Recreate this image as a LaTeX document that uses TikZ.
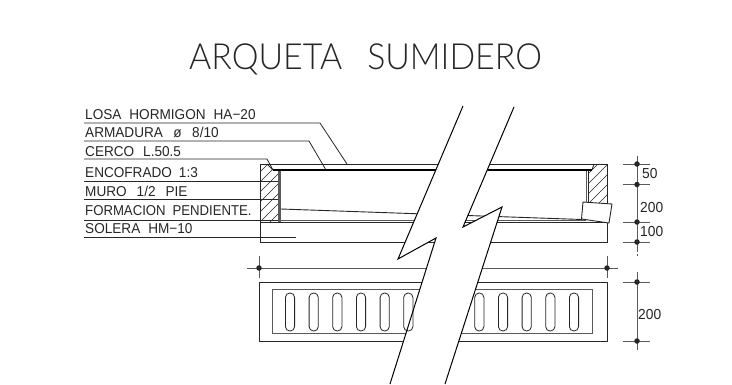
\documentclass[tikz,border=0pt]{standalone}
\usepackage{fontspec}
\setmainfont{Liberation Sans}
\newfontfamily\titlefont[UprightFont={* Light},FakeStretch=0.94]{Lato}
\newfontfamily\labelfont[FakeStretch=0.95]{Liberation Sans}
\definecolor{dk}{gray}{0.15}
\definecolor{md}{gray}{0.35}
\newcommand{\gp}[1]{\hspace{#1}}
\tikzset{
  lab/.style={anchor=base west,inner sep=0pt,font=\labelfont\fontsize{14.3}{14.3}\selectfont,text=dk},
  dimtxt/.style={anchor=base west,inner sep=0pt,font=\labelfont\fontsize{14.5}{14.5}\selectfont,text=dk},
  leader/.style={draw=dk,line width=0.8pt},
  edge/.style={draw=dk,line width=0.9pt},
  gline/.style={draw=md,line width=1pt},
  hatchline/.style={draw=dk,line width=0.6pt},
  brk/.style={draw=black,line width=1pt},
  dimline/.style={draw=md,line width=1pt},
  dotm/.style={circle,fill=dk,inner sep=0pt,minimum size=5.5pt},
  slot/.style={draw=dk,line width=0.8pt,rounded corners=4.4pt}
}
\begin{document}
\begin{tikzpicture}[x=1pt,y=-1pt]
\useasboundingbox (0,0) rectangle (732,384);
\fill[white] (0,0) rectangle (732,384);
% title
\node[anchor=base west,inner sep=0pt,font=\titlefont\fontsize{36}{36}\selectfont,text=dk] (title) at (189,69) {ARQUETA\gp{25pt}SUMIDERO};
% labels
\node[lab] (l1) at (85,119) {LOSA\gp{8pt}HORMIGON\gp{8pt}HA−20};
\node[lab] (l2) at (85,137.7) {ARMADURA\gp{10.5pt}ø\gp{10.5pt}8/10};
\node[lab] (l3) at (85,156) {CERCO\gp{9pt}L.50.5};
\node[lab] (l4) at (85,177.3) {ENCOFRADO\gp{7pt}1:3};
\node[lab] (l5) at (85,196) {MURO\gp{10pt}1/2\gp{10pt}PIE};
\node[lab] (l6) at (85,215.7) {\scalebox{0.97}[1]{FORMACION\gp{7pt}PENDIENTE.}};
\node[lab] (l7) at (85,233.3) {SOLERA\gp{8pt}HM−10};
% leaders
\draw[leader] (84,123) -- (320,123) -- (347,164);
\draw[leader] (84,141) -- (309,141) -- (326,170);
\draw[leader] (84,159) -- (267,159) -- (273,170);
\draw[leader] (84,181) -- (280,181);
\draw[leader] (84,199) -- (279,199);
\draw[leader] (84,220) -- (279,220);
\draw[leader] (84,237) -- (296,237);
% section: hatch
\begin{scope}
\clip (260,164) -- (267,164) -- (273,171) -- (278,171) -- (278,222) -- (260,222) -- cycle;
\foreach \k in {180,190,...,320} \draw[hatchline] (\k,232) -- (\k+80,152);
\end{scope}
\begin{scope}
\clip (594,164) -- (607,164) -- (607,205) -- (588,205) -- (588,171) -- (592,171) -- cycle;
\foreach \k in {500,510,...,600} \draw[hatchline] (\k,232) -- (\k+80,152);
\end{scope}
% section: outline
\draw[edge] (260,222) -- (260,242) -- (607,242) -- (607,164) -- (260,164) -- (260,222);
\draw[edge] (260,222.5) -- (607,222.5);
\draw[gline] (281,220) -- (586,220);
\draw[draw=black,line width=1.8pt] (273,170.3) -- (592,170.3);
\draw[edge] (273,170) -- (267,164);
\draw[edge] (592,170) -- (594,164);
\draw[draw=md,line width=2.4pt] (279.5,171) -- (279.5,222);
\draw[gline] (586,171) -- (586,205);
\draw[edge] (588.5,171) -- (588.5,205);
\draw[edge] (281,209) -- (582,219.5);
% white patch on the right wall
\draw[edge,fill=white] (583,202) -- (612,204) -- (609,223) -- (581.5,219) -- cycle;
% plan
\draw[edge] (259.5,282) rectangle (607,341);
\draw[gline] (272,289) rectangle (592,333);
\draw[dimline] (247,268) -- (618,268);
\draw[dimline] (259,256) -- (259,278);
\draw[dimline] (607,256) -- (607,278);
\node[dotm] (d1) at (259,268) {};
\node[dotm] (d2) at (607,268) {};
% dimensions
\draw[dimline] (637,156) -- (637,252);
\draw[dimline] (637,254) -- (637,256);
\draw[dimline] (637,272) -- (637,350);
\foreach \yy/\nm in {164/a,184.5/b,222/c,242/d,282/e,341/f}{
  \draw[dimline] (623,\yy) -- (650,\yy);
  \node[dotm] (m\nm) at (637,\yy) {};
}
\node[dimtxt] (t50) at (642,178) {50};
\node[dimtxt] (t200) at (640,212) {200};
\node[dimtxt] (t100) at (640,236) {100};
\node[dimtxt] (t200b) at (638,319) {200};
% break mask
\fill[white] (463,106) -- (398,259) -- (436,238) -- (390,384) -- (445,384) -- (502,207) -- (463,227) -- (514,107) -- cycle;
% slots
\foreach \cx in {290,313.7,337.3,361,384.7,408.3,479.3,503,526.7,550.3,574}{
  \draw[slot] (\cx-4.6,293) rectangle (\cx+4.6,331);
}
% break lines
\draw[brk] (463,106) -- (398,259) -- (436,238) -- (390,384);
\draw[brk] (514,107) -- (463,227) -- (502,207) -- (445,384);
\end{tikzpicture}
\end{document}
